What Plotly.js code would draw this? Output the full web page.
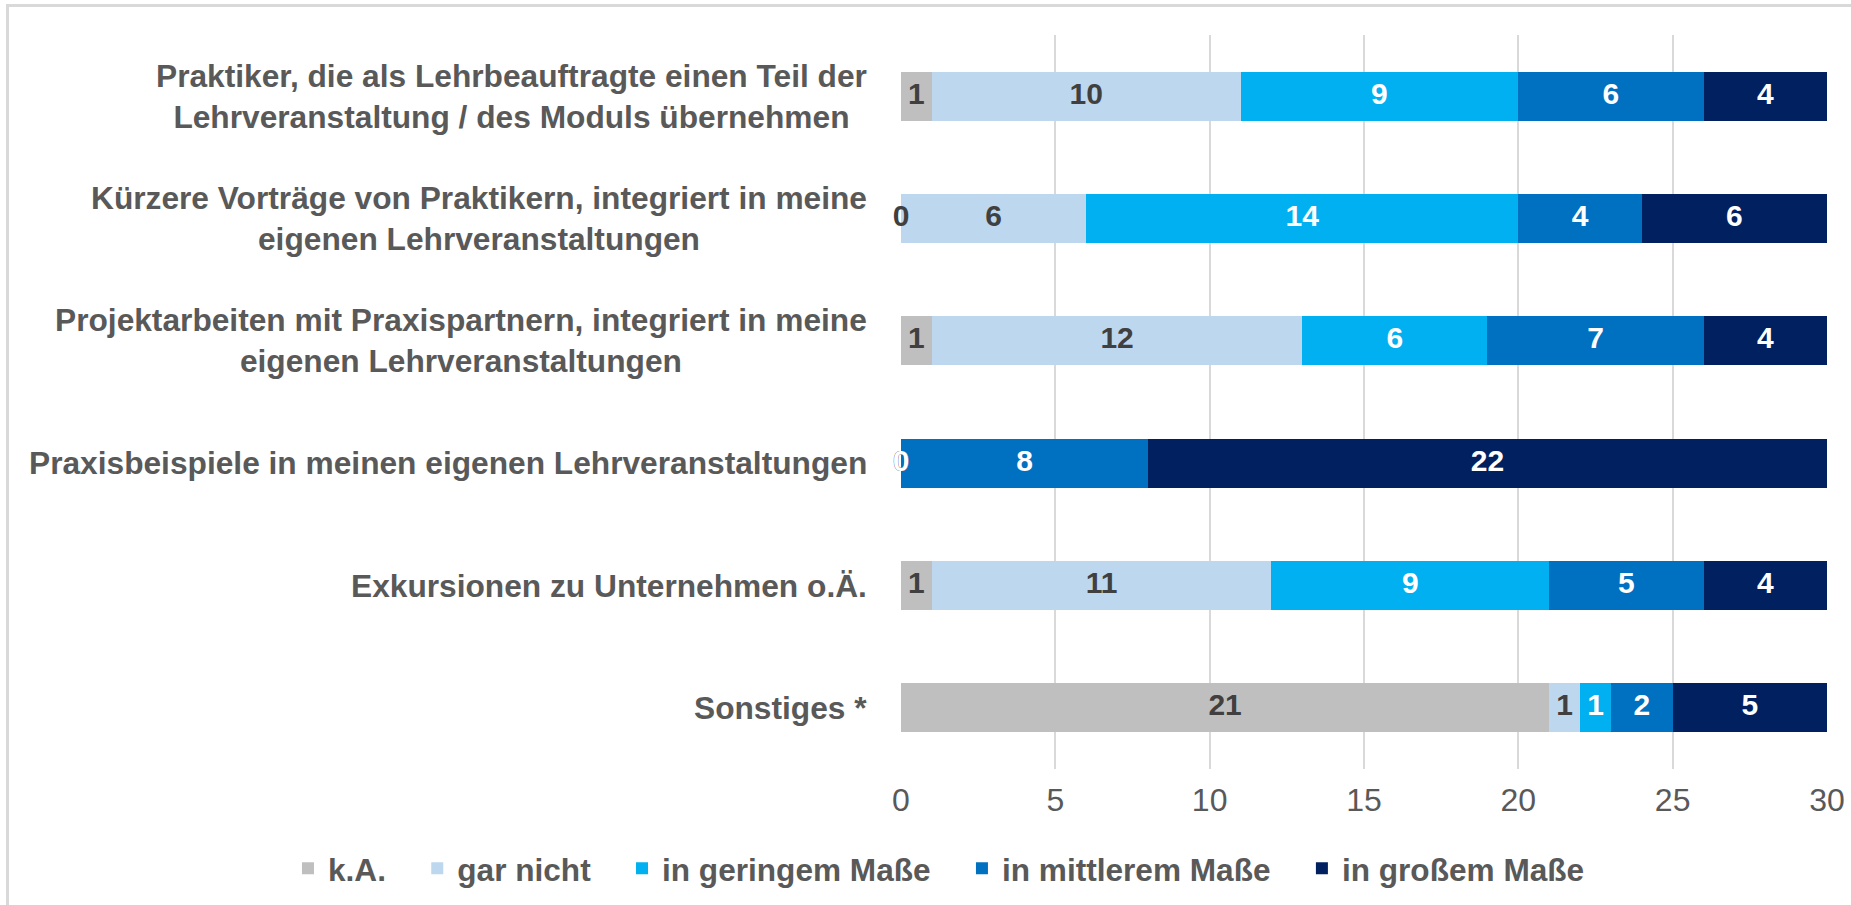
<!DOCTYPE html>
<html>
<head>
<meta charset="utf-8">
<script src="https://cdn.plot.ly/plotly-3.0.1.min.js"></script>
<style>
  html, body { margin: 0; padding: 0; background: #ffffff; }
  #chart { width: 1851px; height: 905px; position: relative; }
  #frame { position: absolute; left: 6px; top: 4px; right: -10px; bottom: -10px;
           border-left: 3px solid #D9D9D9; border-top: 3px solid #D9D9D9; pointer-events: none; }
</style>
</head>
<body>
<div id="chart"></div>
<div id="frame"></div>
<script>
// ---- data ----
const categories = [
  "Praktiker, die als Lehrbeauftragte einen Teil der<br>Lehrveranstaltung / des Moduls übernehmen",
  "Kürzere Vorträge von Praktikern, integriert in meine<br>eigenen Lehrveranstaltungen",
  "Projektarbeiten mit Praxispartnern, integriert in meine<br>eigenen Lehrveranstaltungen",
  "Praxisbeispiele in meinen eigenen Lehrveranstaltungen",
  "Exkursionen zu Unternehmen o.Ä.",
  "Sonstiges *"
];
const seriesNames = ["k.A.", "gar nicht", "in geringem Maße", "in mittlerem Maße", "in großem Maße"];
const kA        = [1, 0, 1, 0, 1, 21];
const garNicht  = [10, 6, 12, 0, 11, 1];
const gering    = [9, 14, 6, 0, 9, 1];
const mittel    = [6, 4, 7, 8, 5, 2];
const gross     = [4, 6, 4, 22, 4, 5];
const xTicks    = [0, 5, 10, 15, 20, 25, 30];

// ---- styles ----
const seriesValues = [kA, garNicht, gering, mittel, gross];
const colors = ["#BFBFBF", "#BDD7EE", "#00B0F0", "#0070C0", "#002060"];
const labelColors = ["#404040", "#404040", "#FFFFFF", "#FFFFFF", "#FFFFFF"];
const FONT = '"Liberation Sans", Arial, sans-serif';
const NB = "\u00A0";

const yKeys = categories.map((c, i) => "c" + i);

const traces = [];
seriesValues.forEach((vals, s) => {
  traces.push({
    type: "bar",
    orientation: "h",
    name: seriesNames[s] + NB + NB + NB,
    y: yKeys,
    x: vals,
    marker: { color: colors[s], line: { width: 0 } },
    hoverinfo: "skip"
  });
});

// data labels from cumulative positions
const cum = categories.map(() => 0);
seriesValues.forEach((vals, s) => {
  const mids = vals.map((v, i) => { const m = cum[i] + v / 2; cum[i] += v; return m; });
  traces.push({
    type: "scatter",
    mode: "text",
    x: mids,
    y: yKeys,
    text: vals.map(String),
    textposition: "middle center",
    textfont: { family: FONT, size: 30, color: labelColors[s], weight: "bold" },
    cliponaxis: false,
    showlegend: false,
    hoverinfo: "skip"
  });
});

const annotations = categories.map((c, i) => ({
  xref: "paper", yref: "y",
  x: 0, y: yKeys[i],
  xanchor: "right", yanchor: "middle",
  xshift: -32,
  align: "center",
  showarrow: false,
  text: c,
  font: { family: FONT, size: 31.7, color: "#595959", weight: "bold" }
}));

const layout = {
  width: 1851, height: 905,
  margin: { l: 901, r: 24, t: 35, b: 136, pad: 0, autoexpand: false },
  paper_bgcolor: "#ffffff",
  plot_bgcolor: "#ffffff",
  barmode: "stack",
  bargap: 0.6,
  showlegend: true,
  font: { family: FONT, color: "#595959" },
  xaxis: {
    range: [0, 30],
    tickvals: xTicks,
    ticktext: xTicks.map(String),
    showgrid: true, gridcolor: "#D9D9D9", gridwidth: 2,
    zeroline: false,
    showline: false,
    ticks: "",
    ticklabelstandoff: 9,
    tickfont: { family: FONT, size: 32, color: "#595959" }
  },
  yaxis: {
    type: "category",
    categoryorder: "array",
    categoryarray: yKeys,
    autorange: "reversed",
    showticklabels: false,
    showgrid: false, zeroline: false, showline: false, ticks: ""
  },
  legend: {
    orientation: "h",
    xref: "paper", yref: "paper",
    x: -0.662, xanchor: "left",
    y: -0.136, yanchor: "middle",
    font: { family: FONT, size: 31.6, color: "#595959", weight: "bold" },
    bgcolor: "rgba(0,0,0,0)",
    traceorder: "normal"
  },
  annotations: annotations
};

Plotly.newPlot("chart", traces, layout, { displayModeBar: false, staticPlot: true });
</script>
</body>
</html>
